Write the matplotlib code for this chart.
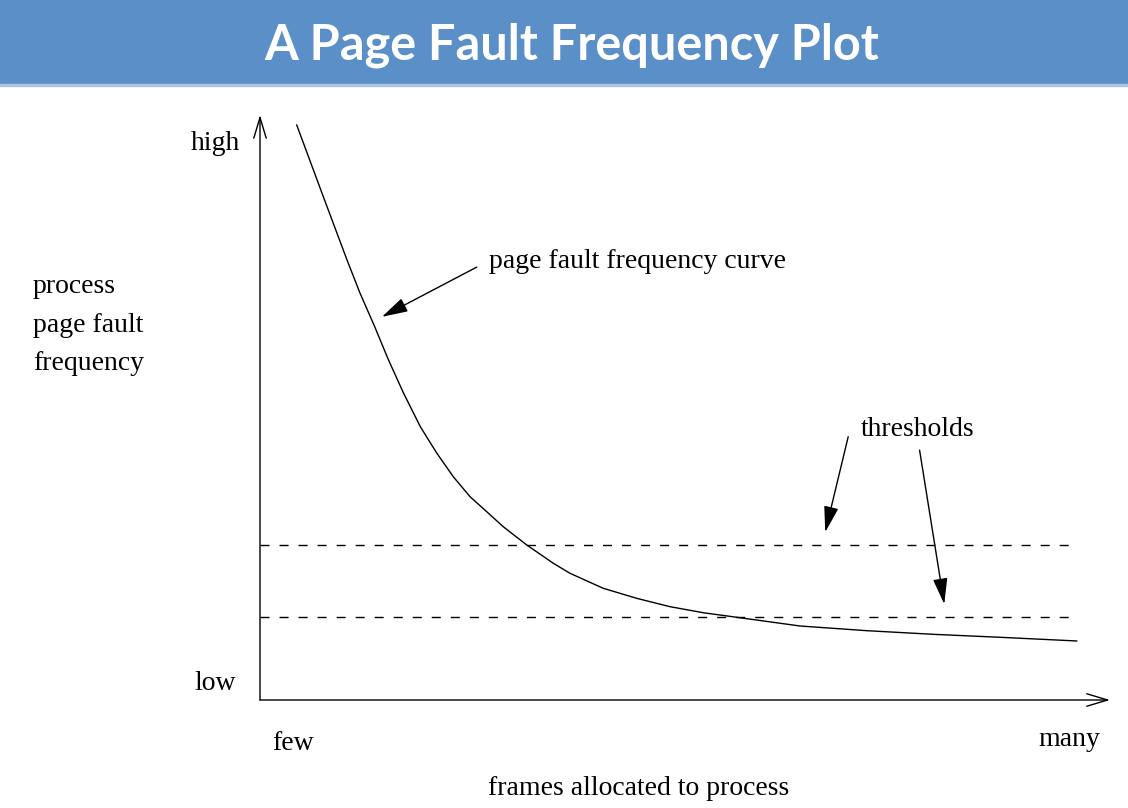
import matplotlib
matplotlib.use("Agg")
from matplotlib import pyplot as plt
from matplotlib.patches import Rectangle

# curve (x: frames, y: fault frequency, both 0..100)
curve_x = [4.32, 7.45, 10.24, 11.76, 13.41, 15.12, 16.88, 18.88, 20.79,
           22.74, 24.71, 26.67, 28.62, 31.38, 34.51, 36.47, 40.39, 44.32,
           48.24, 52.15, 56.08, 63.53, 71.38, 79.18, 87.06, 96.08]
curve_y = [98.29, 86.03, 75.21, 69.57, 64.10, 58.12, 52.48, 46.67, 42.22,
           38.17, 34.75, 32.19, 29.62, 26.50, 23.37, 21.66, 19.09, 17.38,
           15.95, 14.92, 14.14, 12.65, 11.85, 11.23, 10.72, 10.09]

thresholds = [26.5, 14.2]
threshold_end = 96.0

# arrows: (tail x, tail y, tip x, tip y)
curve_arrow = (25.5, 74.0, 14.35, 65.5)
threshold_arrows = [(69.2, 45.0, 66.5, 28.7), (77.6, 42.7, 80.5, 16.4)]

ylabel_lines = ["process", "page fault", "frequency"]
ylabel_y = [70.6, 64.1, 57.6]

title = "A Page Fault Frequency Plot"
bar_blue = "#5a8fc8"

fig = plt.figure(figsize=(11.28, 8.08), dpi=100)
W, H = 1128, 808

# --- Title bar ---
fig.patches.append(Rectangle((0, (H - 84) / H), 1, 84 / H,
                             transform=fig.transFigure, color=bar_blue,
                             zorder=0))
fig.patches.append(Rectangle((0, (H - 86) / H), 1, 2 / H,
                             transform=fig.transFigure, color="#a9c5e6",
                             zorder=0))
fig.text(572 / W, (H - 60) / H, title, color="white", fontsize=35,
         fontweight="bold", family="Lato", ha="center", va="baseline")

# --- Plot area: origin at (260, 700) px, tips at x=1110, y=115 ---
ax = fig.add_axes([260 / W, (H - 700) / H, 850 / W, 585 / H])
ax.set_xlim(0, 100)
ax.set_ylim(0, 100)
ax.axis("off")

serif = dict(family="Liberation Serif", fontsize=20, color="black")

# axes with open arrowheads
axis_style = dict(arrowstyle="->,head_length=1.5,head_width=0.45",
                  mutation_scale=10, lw=1.0, color="black",
                  shrinkA=0, shrinkB=0)
ax.annotate("", xy=(100, 0), xytext=(0, 0), arrowprops=axis_style,
            annotation_clip=False)
ax.annotate("", xy=(0, 100), xytext=(0, 0), arrowprops=axis_style,
            annotation_clip=False)

# curve
ax.plot(curve_x, curve_y, color="black", lw=1.0, clip_on=False,
        solid_joinstyle="round")

# thresholds
for ty in thresholds:
    ax.plot([0, threshold_end], [ty, ty], color="black", lw=1.0,
            dashes=(6.5, 7.2))

# filled arrows
fill_style = dict(arrowstyle="-|>,head_length=1.6,head_width=0.45",
                  mutation_scale=10, lw=1.0, color="black",
                  shrinkA=0, shrinkB=0)
tx, ty, hx, hy = curve_arrow
ax.annotate("", xy=(hx, hy), xytext=(tx, ty), arrowprops=fill_style)
for tx, ty, hx, hy in threshold_arrows:
    ax.annotate("", xy=(hx, hy), xytext=(tx, ty), arrowprops=fill_style)

# labels
ax.text(-2.4, 95.2, "high", ha="right", va="center", **serif)
ax.text(-2.8, 2.9, "low", ha="right", va="center", **serif)
for line, ly in zip(ylabel_lines, ylabel_y):
    ax.text(-26.7, ly, line, ha="left", va="center", **serif)
ax.text(1.4, -7.4, "few", ha="left", va="center", **serif)
ax.text(98.9, -6.8, "many", ha="right", va="center", **serif)
ax.text(44.5, -15.2, "frames allocated to process", ha="center",
        va="center", **serif)
ax.text(26.9, 74.9, "page fault frequency curve", ha="left", va="center",
        **serif)
ax.text(70.7, 46.3, "thresholds", ha="left", va="center", **serif)

fig.savefig("out.png", dpi=100)
